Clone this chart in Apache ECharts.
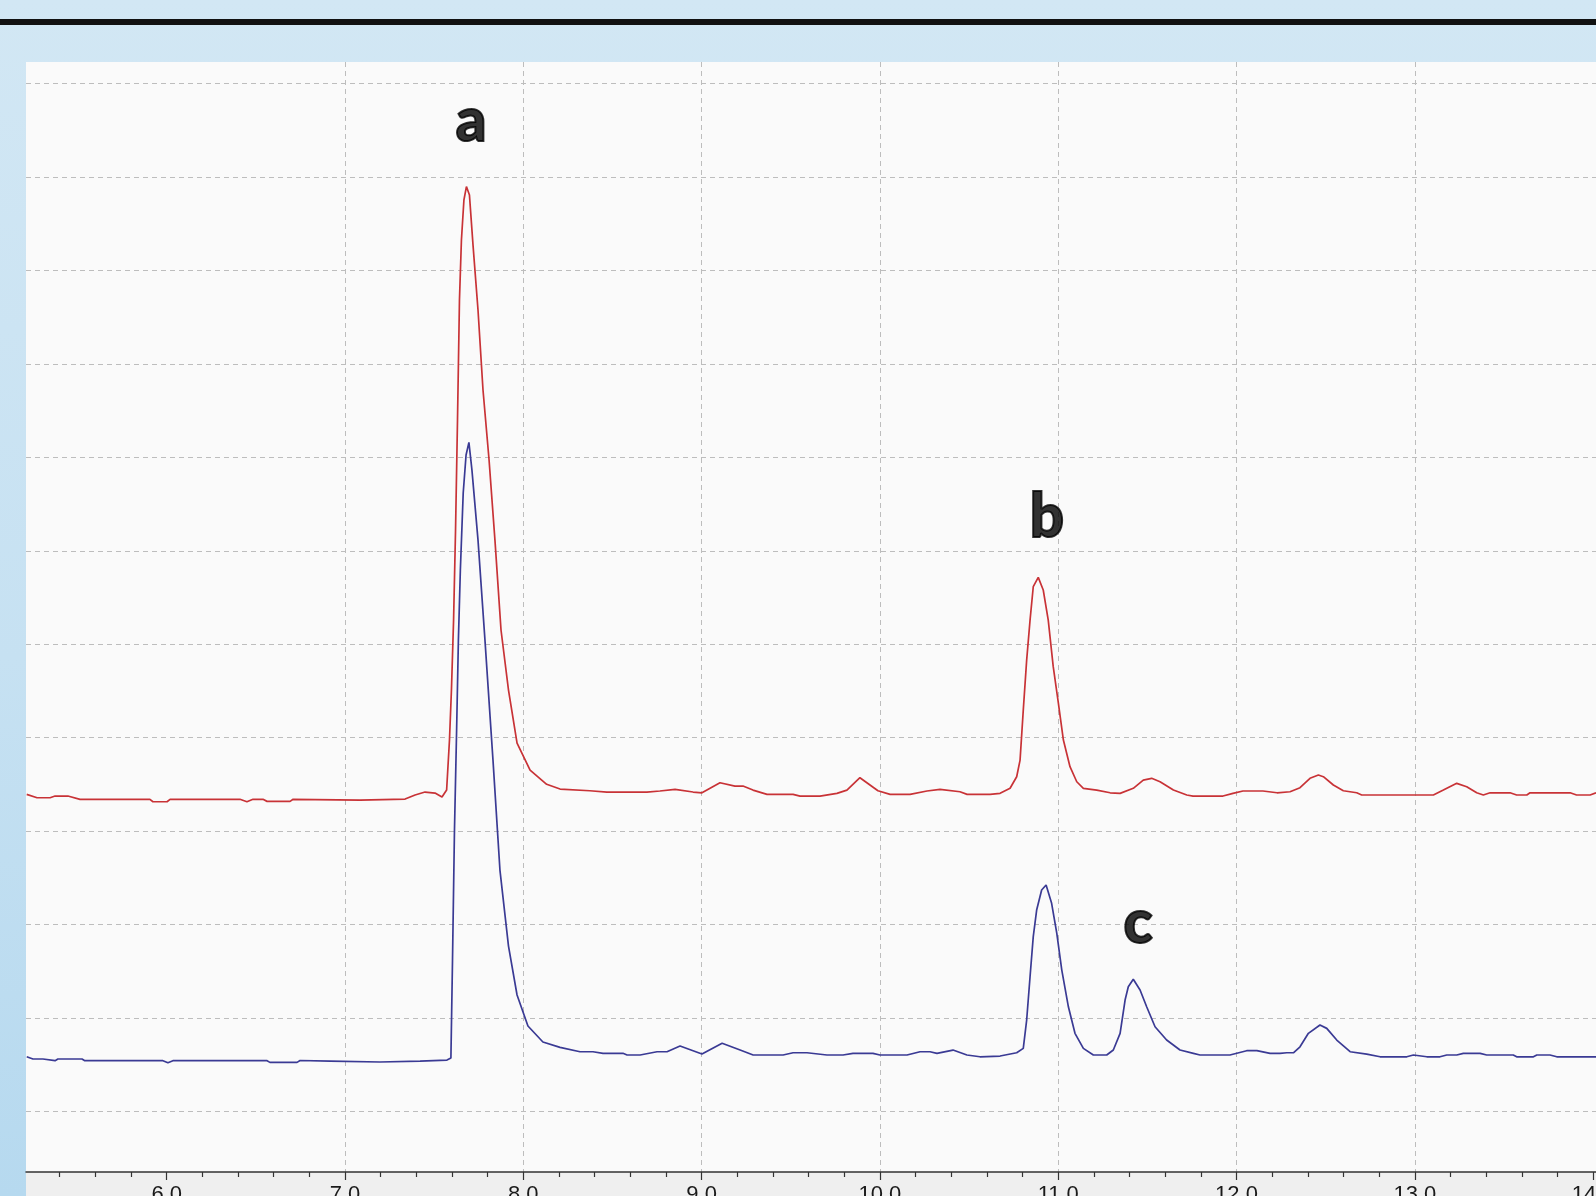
<!DOCTYPE html>
<html>
<head>
<meta charset="utf-8">
<script src="https://cdn.jsdelivr.net/npm/echarts@6/dist/echarts.min.js"></script>
<style>
  html, body { margin: 0; padding: 0; width: 100%; height: 100%; overflow: hidden; }
  body { background: linear-gradient(to bottom, #D2E7F4 0%, #C6E1F2 55%, #B6D9EF 100%); position: relative; }
  #topline { position: absolute; left: 0; right: 0; top: 19px; height: 6px; background: #111; }
  #labelstrip { position: absolute; left: 26px; right: 0; bottom: 0; height: 24px; background: #EFEFEF; }
  #chart { position: absolute; left: 0; top: 0; right: 0; bottom: 0; }
</style>
</head>
<body>
<div id="topline"></div>
<div id="labelstrip"></div>
<div id="chart"></div>
<script>
// Retention time axis (minutes) and detector response (in grid-division units)
const xTicks = [6, 7, 8, 9, 10, 11, 12, 13, 14];

const redTrace = [
  [5.215,3.394],[5.273,3.358],[5.346,3.358],[5.374,3.376],[5.446,3.376],[5.514,3.341],[5.906,3.341],
  [5.923,3.315],[6.002,3.315],[6.019,3.341],[6.411,3.341],[6.450,3.315],[6.484,3.341],[6.540,3.341],
  [6.563,3.319],[6.692,3.319],[6.709,3.341],[7.084,3.333],[7.337,3.344],[7.393,3.387],[7.449,3.419],
  [7.505,3.408],[7.544,3.365],[7.570,3.440],[7.586,3.975],[7.597,4.510],[7.609,5.259],[7.620,6.222],
  [7.631,7.400],[7.642,8.684],[7.653,9.326],[7.667,9.754],[7.681,9.898],[7.698,9.807],[7.718,9.272],
  [7.746,8.577],[7.774,7.721],[7.808,6.972],[7.841,6.115],[7.875,5.153],[7.917,4.510],[7.965,3.943],
  [8.038,3.654],[8.131,3.502],[8.206,3.451],[8.373,3.433],[8.469,3.419],[8.693,3.419],[8.766,3.430],
  [8.851,3.448],[8.952,3.419],[9.002,3.411],[9.103,3.518],[9.187,3.483],[9.232,3.483],[9.288,3.440],
  [9.367,3.394],[9.513,3.394],[9.552,3.376],[9.664,3.376],[9.759,3.405],[9.815,3.440],[9.888,3.572],
  [9.989,3.433],[10.057,3.394],[10.169,3.394],[10.264,3.430],[10.337,3.448],[10.449,3.422],[10.489,3.394],
  [10.618,3.394],[10.674,3.405],[10.730,3.459],[10.767,3.583],[10.786,3.761],[10.804,4.296],[10.823,4.831],
  [10.842,5.259],[10.860,5.616],[10.888,5.716],[10.916,5.581],[10.944,5.259],[10.972,4.760],[11.001,4.368],
  [11.029,3.975],[11.066,3.690],[11.104,3.529],[11.141,3.459],[11.216,3.440],[11.291,3.411],[11.347,3.405],
  [11.421,3.459],[11.477,3.547],[11.524,3.566],[11.571,3.529],[11.646,3.440],[11.721,3.387],[11.756,3.376],
  [11.924,3.376],[11.980,3.405],[12.036,3.430],[12.148,3.430],[12.227,3.411],[12.300,3.422],[12.356,3.465],
  [12.412,3.566],[12.459,3.601],[12.487,3.583],[12.543,3.494],[12.599,3.433],[12.674,3.411],[12.702,3.387],
  [13.104,3.387],[13.160,3.440],[13.235,3.512],[13.291,3.476],[13.347,3.411],[13.384,3.387],[13.422,3.411],
  [13.534,3.411],[13.571,3.387],[13.628,3.387],[13.646,3.411],[13.871,3.411],[13.907,3.387],[13.983,3.387],
  [14.016,3.411]
];

const blueTrace = [
  [5.215,0.586],[5.250,0.562],[5.306,0.562],[5.317,0.544],[5.374,0.544],[5.390,0.562],[5.525,0.562],
  [5.541,0.544],[5.979,0.544],[6.007,0.522],[6.035,0.544],[6.563,0.544],[6.579,0.526],[6.731,0.526],
  [6.748,0.546],[6.916,0.540],[7.196,0.530],[7.421,0.540],[7.572,0.551],[7.594,0.572],[7.603,1.621],
  [7.614,3.012],[7.626,4.082],[7.636,5.045],[7.647,5.795],[7.663,6.619],[7.679,7.025],[7.695,7.160],
  [7.712,6.864],[7.746,6.115],[7.785,5.045],[7.830,3.761],[7.869,2.584],[7.917,1.771],[7.965,1.247],
  [8.026,0.915],[8.110,0.744],[8.206,0.687],[8.318,0.640],[8.391,0.640],[8.447,0.623],[8.559,0.623],
  [8.582,0.605],[8.655,0.605],[8.750,0.640],[8.806,0.640],[8.879,0.701],[9.002,0.615],[9.115,0.730],
  [9.216,0.658],[9.289,0.605],[9.457,0.605],[9.513,0.629],[9.591,0.629],[9.703,0.605],[9.793,0.605],
  [9.849,0.623],[9.961,0.623],[10.000,0.605],[10.152,0.605],[10.225,0.640],[10.281,0.640],[10.320,0.623],
  [10.410,0.658],[10.488,0.605],[10.561,0.586],[10.674,0.594],[10.767,0.629],[10.804,0.676],[10.823,0.979],
  [10.842,1.442],[10.860,1.871],[10.879,2.156],[10.907,2.370],[10.932,2.424],[10.963,2.228],[10.992,1.907],
  [11.020,1.514],[11.057,1.121],[11.094,0.837],[11.141,0.676],[11.197,0.605],[11.272,0.605],[11.309,0.658],
  [11.347,0.837],[11.375,1.193],[11.393,1.335],[11.421,1.415],[11.459,1.300],[11.496,1.121],[11.543,0.907],
  [11.608,0.765],[11.683,0.658],[11.758,0.623],[11.795,0.605],[11.963,0.605],[12.057,0.651],[12.114,0.651],
  [12.188,0.623],[12.244,0.623],[12.282,0.629],[12.319,0.629],[12.356,0.693],[12.403,0.837],[12.468,0.926],
  [12.506,0.890],[12.562,0.765],[12.637,0.640],[12.730,0.615],[12.805,0.586],[12.955,0.586],[12.992,0.605],
  [13.067,0.586],[13.141,0.586],[13.179,0.605],[13.235,0.605],[13.272,0.623],[13.366,0.623],[13.403,0.605],
  [13.552,0.605],[13.571,0.586],[13.665,0.586],[13.684,0.605],[13.758,0.605],[13.796,0.586],[14.016,0.586]
];

const peakNames = ['a', 'b', 'c'];
const peakLabelX = [7.707, 10.937, 11.447];
const peakLabelY = [10.59, 6.35, 2.01];

const xMin = 5.211, xMax = 14.016;
const yMin = -0.647, yMax = 11.231;

const chart = echarts.init(document.getElementById('chart'), null, { renderer: 'canvas' });

const gridLine = { show: true, showMinLine: false, showMaxLine: false,
  lineStyle: { color: '#BDBDBD', width: 1, type: [5, 4] } };

chart.setOption({
  backgroundColor: 'transparent',
  animation: false,
  grid: { left: 26, right: 0, top: 62, bottom: 24, containLabel: false, outerBoundsMode: 'none',
    show: true, backgroundColor: '#FAFAFA', borderWidth: 0 },
  xAxis: {
    type: 'value', min: xMin, max: xMax, minInterval: 1, maxInterval: 1,
    axisLine: { show: true, onZero: false, lineStyle: { color: '#333', width: 1.5 } },
    axisTick: { show: true, length: 8, customValues: xTicks, lineStyle: { color: '#333', width: 1.2 } },
    minorTick: { show: true, splitNumber: 5, length: 5, lineStyle: { color: '#333', width: 1.2 } },
    axisLabel: { show: true, customValues: xTicks, margin: 12, color: '#1a1a1a', fontSize: 22,
      fontFamily: 'Liberation Sans', showMinLabel: true, showMaxLabel: true, hideOverlap: false,
      formatter: v => v.toFixed(1) },
    splitLine: gridLine
  },
  yAxis: {
    type: 'value', min: yMin, max: yMax, minInterval: 1, maxInterval: 1,
    axisLine: { show: false }, axisTick: { show: false }, axisLabel: { show: false },
    splitLine: gridLine
  },
  series: [
    { type: 'line', data: redTrace, symbol: 'none', smooth: false, silent: true,
      lineStyle: { color: '#C83236', width: 1.7 } },
    { type: 'line', data: blueTrace, symbol: 'none', smooth: false, silent: true,
      lineStyle: { color: '#3A3A94', width: 1.7 } },
    { type: 'scatter', symbolSize: 0, silent: true,
      data: peakNames.map((n, i) => [peakLabelX[i], peakLabelY[i], n]),
      label: { show: true, position: 'inside', formatter: p => p.data[2],
        fontFamily: 'Lato', fontWeight: 900, fontSize: 60, color: '#000',
        textBorderColor: '#000', textBorderWidth: 2 } }
  ]
});
</script>
</body>
</html>
